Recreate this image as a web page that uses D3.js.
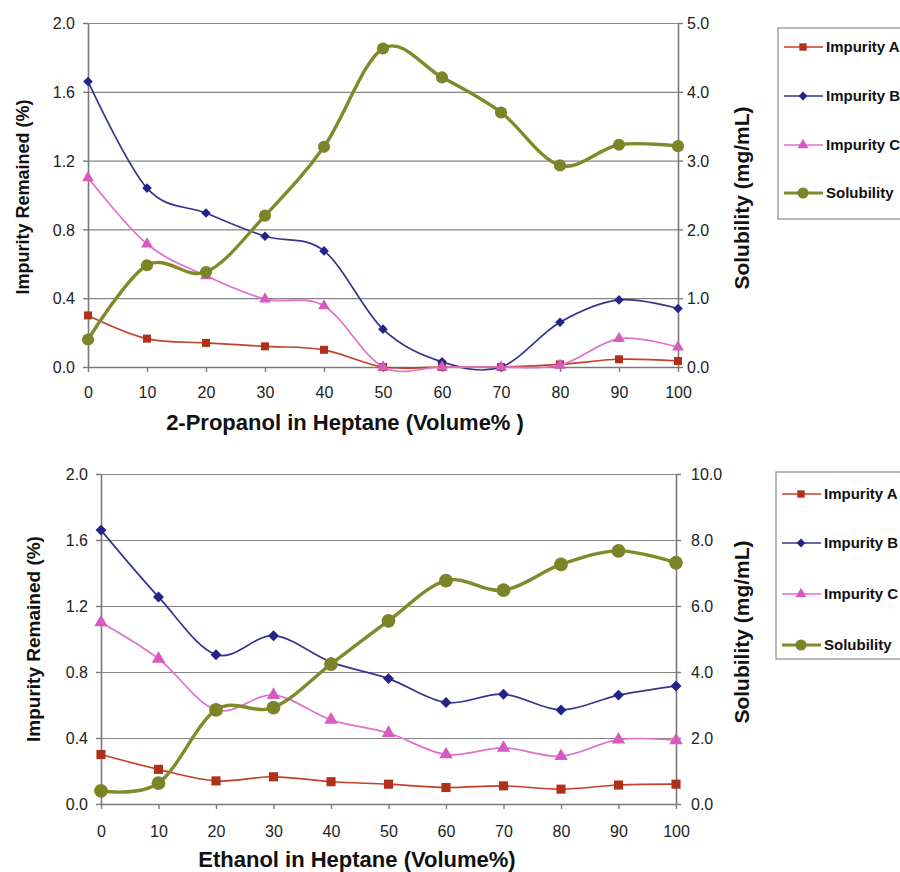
<!DOCTYPE html>
<html>
<head>
<meta charset="utf-8">
<script src="https://cdn.jsdelivr.net/npm/d3@7"></script>
<style>
  body { margin: 0; background: #fff; }
  text { font-family: Arial, "Liberation Sans", sans-serif; }
</style>
</head>
<body>
<script>
//x categories shared by both panels
var xValues = [0, 10, 20, 30, 40, 50, 60, 70, 80, 90, 100];

//2-propanol panel (left axis %, right axis mg/mL)
var propImpA = [0.30, 0.165, 0.14, 0.12, 0.10, 0.0, 0.0, 0.0, 0.015, 0.045, 0.035];
var propImpB = [1.66, 1.04, 0.895, 0.76, 0.675, 0.22, 0.03, 0.0, 0.26, 0.39, 0.34];
var propImpC = [1.10, 0.715, 0.53, 0.395, 0.355, 0.0, 0.0, 0.0, 0.01, 0.165, 0.115];
var propSol  = [0.40, 1.48, 1.38, 2.20, 3.20, 4.63, 4.21, 3.70, 2.93, 3.23, 3.21];

//ethanol panel
var ethImpA = [0.30, 0.21, 0.14, 0.165, 0.135, 0.12, 0.10, 0.11, 0.09, 0.115, 0.12];
var ethImpB = [1.66, 1.255, 0.905, 1.02, 0.86, 0.76, 0.615, 0.665, 0.57, 0.66, 0.715];
var ethImpC = [1.10, 0.88, 0.57, 0.66, 0.51, 0.43, 0.30, 0.34, 0.29, 0.39, 0.385];
var ethSol  = [0.40, 0.63, 2.85, 2.92, 4.24, 5.55, 6.77, 6.48, 7.26, 7.67, 7.31];

//tick labels
var leftTicks = [0, 0.4, 0.8, 1.2, 1.6, 2.0];
var propRightTicks = [0, 1, 2, 3, 4, 5];
var ethRightTicks = [0, 2, 4, 6, 8, 10];
var legendNames = ["Impurity A", "Impurity B", "Impurity C", "Solubility"];

var colors = {
    a: "#c2412a", aMark: "#b0301c",
    b: "#35358f", bMark: "#232388",
    c: "#e070c8", cMark: "#d65ac0",
    s: "#808a2a", sMark: "#7c8428"
};

var svg = d3.select("body").append("svg")
    .attr("width", 900)
    .attr("height", 872);

drawPanel({
    left: 88, right: 678, top: 23, bottom: 367,
    rightMax: 5, rightTicks: propRightTicks,
    impA: propImpA, impB: propImpB, impC: propImpC, sol: propSol,
    xTitle: "2-Propanol in Heptane (Volume% )", xTitleX: 345, xTitleY: 430, xLabelY: 398,
    yTitleX: 23, yTitleY: 197, yTitleSize: 18, rTitleY: 198,
    leftLabelX: 75, rightLabelX: 687,
    markScale: 1,
    legend: {x: 778, y: 28, h: 191, rows: [47, 96, 145, 193]}
});

drawPanel({
    left: 101, right: 676, top: 474, bottom: 804,
    rightMax: 10, rightTicks: ethRightTicks,
    impA: ethImpA, impB: ethImpB, impC: ethImpC, sol: ethSol,
    xTitle: "Ethanol in Heptane (Volume%)", xTitleX: 357, xTitleY: 867, xLabelY: 837,
    yTitleX: 33, yTitleY: 639, yTitleSize: 19, rTitleY: 632,
    leftLabelX: 88, rightLabelX: 691,
    markScale: 1.3,
    legend: {x: 776, y: 472, h: 187, rows: [494, 543, 594, 645]}
});

function drawPanel(p){
    var g = svg.append("g");

    var x = d3.scaleLinear().domain([0, 100]).range([p.left, p.right]);
    var yL = d3.scaleLinear().domain([0, 2]).range([p.bottom, p.top]);
    var yR = d3.scaleLinear().domain([0, p.rightMax]).range([p.bottom, p.top]);

    //horizontal gridlines
    g.append("g")
        .attr("transform", "translate(" + p.left + ",0)")
        .call(d3.axisLeft(yL).tickValues(leftTicks).tickSize(-(p.right - p.left)).tickFormat(""))
        .call(function(s){
            s.select(".domain").remove();
            s.selectAll("line").attr("stroke", "#858585").attr("stroke-width", 1.2);
        });

    //left axis
    g.append("g")
        .attr("transform", "translate(" + p.left + ",0)")
        .call(d3.axisLeft(yL).tickValues(leftTicks).tickSize(5).tickSizeOuter(0).tickFormat(d3.format(".1f")))
        .call(styleAxis)
        .selectAll("text").attr("x", p.leftLabelX - p.left).attr("dy", "0.35em");

    //right axis
    g.append("g")
        .attr("transform", "translate(" + p.right + ",0)")
        .call(d3.axisRight(yR).tickValues(p.rightTicks).tickSize(5).tickSizeOuter(0).tickFormat(d3.format(".1f")))
        .call(styleAxis)
        .selectAll("text").attr("x", p.rightLabelX - p.right).attr("dy", "0.35em");

    //x axis
    g.append("g")
        .attr("transform", "translate(0," + p.bottom + ")")
        .call(d3.axisBottom(x).tickValues(xValues).tickSize(5).tickSizeOuter(0).tickFormat(d3.format("d")))
        .call(styleAxis)
        .selectAll("text").attr("y", p.xLabelY - p.bottom).attr("dy", 0);

    //axis titles
    g.append("text")
        .attr("x", p.xTitleX)
        .attr("y", p.xTitleY)
        .attr("text-anchor", "middle")
        .attr("font-size", 22).attr("font-weight", "bold").attr("fill", "#111")
        .text(p.xTitle);
    g.append("text")
        .attr("transform", "translate(" + p.yTitleX + "," + p.yTitleY + ") rotate(-90)")
        .attr("text-anchor", "middle").attr("dy", "0.35em")
        .attr("font-size", p.yTitleSize).attr("font-weight", "bold").attr("fill", "#111")
        .text("Impurity Remained (%)");
    g.append("text")
        .attr("transform", "translate(742," + p.rTitleY + ") rotate(-90)")
        .attr("text-anchor", "middle").attr("dy", "0.35em")
        .attr("font-size", 21).attr("font-weight", "bold").attr("fill", "#111")
        .text("Solubility (mg/mL)");

    //diamond = square turned 45 degrees, like the spreadsheet marker
    var series = [
        {vals: p.impA, y: yL, line: colors.a, mark: colors.aMark, sym: d3.symbolSquare, size: 64, rot: 0, w: 1.7},
        {vals: p.impB, y: yL, line: colors.b, mark: colors.bMark, sym: d3.symbolSquare, size: 46, rot: 45, w: 1.7},
        {vals: p.impC, y: yL, line: colors.c, mark: colors.cMark, sym: d3.symbolTriangle, size: 60, rot: 0, w: 1.7},
        {vals: p.sol, y: yR, line: colors.s, mark: colors.sMark, sym: d3.symbolCircle, size: 115, rot: 0, w: 3.4}
    ];

    var smooth = d3.curveCatmullRom.alpha(0);

    series.forEach(function(s){
        var line = d3.line()
            .x(function(d, i){ return x(xValues[i]); })
            .y(function(d){ return s.y(d); })
            .curve(smooth);
        g.append("path")
            .datum(s.vals)
            .attr("d", line)
            .attr("fill", "none")
            .attr("stroke", s.line)
            .attr("stroke-width", s.w);
        g.selectAll(null)
            .data(s.vals)
            .enter()
            .append("path")
            .attr("transform", function(d, i){
                return "translate(" + x(xValues[i]) + "," + s.y(d) + ") rotate(" + s.rot + ")";
            })
            .attr("d", d3.symbol().type(s.sym).size(s.size * p.markScale))
            .attr("fill", s.mark);
    });

    //legend
    var lg = p.legend;
    g.append("rect")
        .attr("x", lg.x).attr("y", lg.y)
        .attr("width", 140).attr("height", lg.h)
        .attr("fill", "#fff").attr("stroke", "#8a8a8a").attr("stroke-width", 1.2);
    series.forEach(function(s, i){
        var ry = lg.rows[i];
        g.append("line")
            .attr("x1", lg.x + 6).attr("x2", lg.x + 45)
            .attr("y1", ry).attr("y2", ry)
            .attr("stroke", s.line).attr("stroke-width", s.w > 2 ? 2.8 : 1.7);
        g.append("path")
            .attr("transform", "translate(" + (lg.x + 25) + "," + ry + ") rotate(" + s.rot + ")")
            .attr("d", d3.symbol().type(s.sym).size(s.size * 0.85))
            .attr("fill", s.mark);
        g.append("text")
            .attr("x", lg.x + 48).attr("y", ry).attr("dy", "0.35em")
            .attr("font-size", 15).attr("font-weight", "bold").attr("fill", "#111")
            .text(legendNames[i]);
    });
}

function styleAxis(s){
    s.select(".domain").attr("stroke", "#7a7a7a").attr("stroke-width", 1.6);
    s.selectAll(".tick line").attr("stroke", "#7a7a7a").attr("stroke-width", 1.4);
    s.selectAll("text").attr("font-size", 16).attr("fill", "#222").attr("font-family", "Arial, 'Liberation Sans', sans-serif");
}
</script>
</body>
</html>
